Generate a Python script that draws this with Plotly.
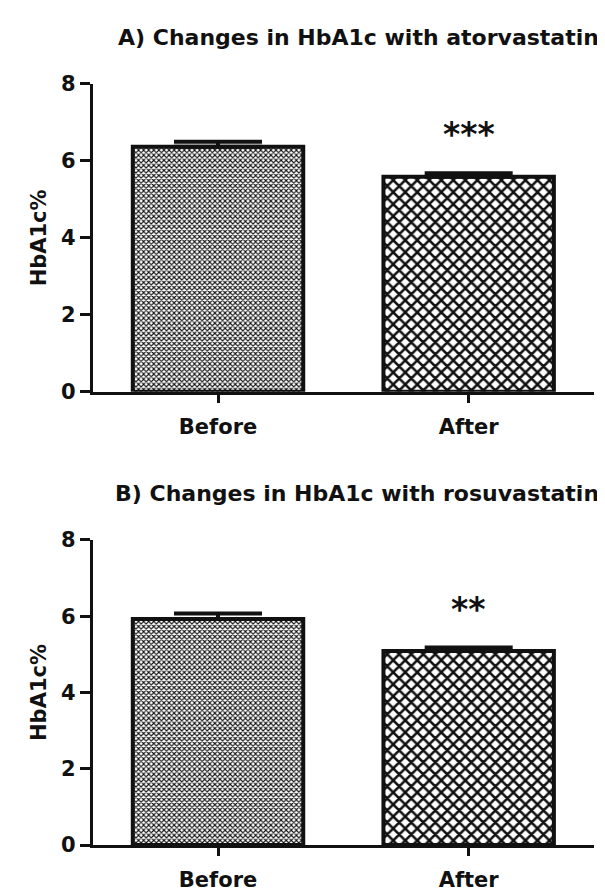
import plotly.graph_objects as go

# ---- data ----
categories = ["Before", "After"]
atorva_mean = [6.37, 5.59]
atorva_sem = [0.13, 0.09]
rosuva_mean = [5.93, 5.09]
rosuva_sem = [0.14, 0.09]
atorva_stars = ["", "***"]
rosuva_stars = ["", "**"]
panel_titles = ["A) Changes in HbA1c with atorvastatin",
                "B) Changes in HbA1c with rosuvastatin"]
y_ticks = [0, 2, 4, 6, 8]
y_title = "HbA1c%"

# the page body has an 8px margin, so the figure is drawn 8px in from the
# top-left corner of the 605x892 window
OFF = 8
W, H = 605 - OFF, 892 - OFF
FONT = "DejaVu Sans"


def px_x(sx):
    return (sx - OFF) / W


def px_y(sy):
    return (H - (sy - OFF)) / H


fig = go.Figure()

panels = [
    (atorva_mean, atorva_sem, atorva_stars, "x", "y"),
    (rosuva_mean, rosuva_sem, rosuva_stars, "x2", "y2"),
]

for mean, sem, stars, xa, ya in panels:
    fig.add_trace(go.Bar(
        x=categories, y=mean, xaxis=xa, yaxis=ya,
        width=0.68,
        marker=dict(
            color="white",
            line=dict(color="#111111", width=4),
            pattern=dict(shape=["x", "x"], size=[3.6, 8.5], solidity=[0.5, 0.5],
                         fgcolor="#111111", bgcolor="white", fillmode="replace"),
        ),
        error_y=dict(type="data", array=sem, arrayminus=[0] * len(sem),
                     symmetric=False, color="#111111", thickness=4, width=44),
        showlegend=False, hoverinfo="skip",
    ))
    for c, m, s, st in zip(categories, mean, sem, stars):
        if st:
            fig.add_annotation(x=c, y=m + s + 1.0, xref=xa, yref=ya,
                               text=st, showarrow=False, yanchor="middle",
                               font=dict(family=FONT, size=33, color="#111111",
                                         weight="bold"))

x_dom = [px_x(92.7), px_x(594)]
yA = [px_y(392), px_y(74)]
yB = [px_y(860), px_y(545)]

axis_common = dict(
    showline=True, linecolor="#111111", linewidth=3,
    ticks="outside", tickcolor="#111111", tickwidth=3,
    showgrid=False, zeroline=False,
    tickfont=dict(family=FONT, size=21, color="#111111", weight="bold"),
)

xcommon = dict(axis_common, range=[-0.5, 1.5], ticklen=8, domain=x_dom,
               type="category", ticklabelstandoff=6)
ycommon = dict(axis_common, range=[0, 8], tickvals=y_ticks, ticklen=10,
               title=dict(text=y_title, standoff=9,
                          font=dict(family=FONT, size=21, color="#111111",
                                    weight="bold")))

fig.update_layout(
    width=W, height=H,
    margin=dict(l=0, r=0, t=0, b=0),
    paper_bgcolor="white", plot_bgcolor="white",
    xaxis=dict(xcommon, anchor="y"),
    yaxis=dict(ycommon, domain=yA, anchor="x"),
    xaxis2=dict(xcommon, anchor="y2"),
    yaxis2=dict(ycommon, domain=yB, anchor="x2"),
)

title_y = [px_y(26), px_y(497)]
for t, ty in zip(panel_titles, title_y):
    fig.add_annotation(x=px_x(601), y=ty, xref="paper", yref="paper",
                       text=t, showarrow=False, xanchor="right",
                       yanchor="middle",
                       font=dict(family=FONT, size=22, color="#111111",
                                 weight="bold"))

fig.write_html("out.html")
